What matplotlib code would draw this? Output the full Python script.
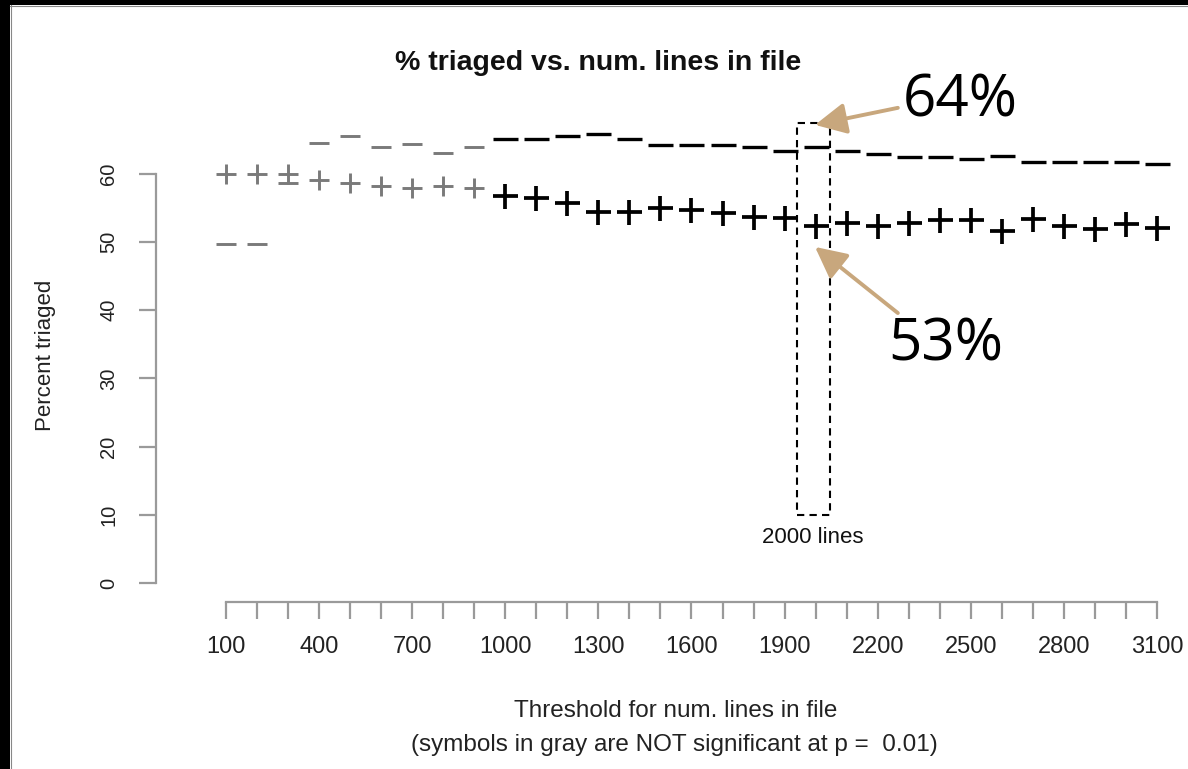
import matplotlib
matplotlib.use('Agg')
import matplotlib.pyplot as plt
from matplotlib.patches import Rectangle
import numpy as np

# thresholds for num. lines in file
thresholds = [100, 200, 300, 400, 500, 600, 700, 800, 900, 1000,
              1100, 1200, 1300, 1400, 1500, 1600, 1700, 1800, 1900, 2000,
              2100, 2200, 2300, 2400, 2500, 2600, 2700, 2800, 2900, 3000, 3100]
# "+" series
plus_pct = [60.0, 60.0, 60.0, 59.1, 58.7, 58.2, 57.9, 58.2, 57.9, 56.8,
            56.5, 55.7, 54.4, 54.4, 55.0, 54.7, 54.3, 53.7, 53.5, 52.4,
            52.8, 52.4, 52.8, 53.2, 53.2, 51.6, 53.4, 52.3, 51.9, 52.6, 52.1]
# "-" series
minus_pct = [49.7, 49.7, 58.7, 64.6, 65.5, 63.9, 64.4, 63.1, 63.9, 65.1,
             65.1, 65.5, 65.9, 65.1, 64.3, 64.3, 64.3, 63.9, 63.4, 63.9,
             63.4, 63.0, 62.5, 62.5, 62.2, 62.7, 61.8, 61.8, 61.8, 61.8, 61.4]
# 1 = significant at p = 0.01 (black), 0 = not (gray)
significant = [0, 0, 0, 0, 0, 0, 0, 0, 0, 1,
               1, 1, 1, 1, 1, 1, 1, 1, 1, 1,
               1, 1, 1, 1, 1, 1, 1, 1, 1, 1, 1]

yticks = [0, 10, 20, 30, 40, 50, 60]
xtick_labels = [100, 400, 700, 1000, 1300, 1600, 1900, 2200, 2500, 2800, 3100]

W, H = 1188, 769
fig = plt.figure(figsize=(W / 100, H / 100), dpi=100)
plt.rcParams['font.family'] = ['Liberation Sans', 'DejaVu Sans']

# frame of the slide: black strip top and left
fig.patches.append(Rectangle((0, 1 - 5 / H), 1, 5 / H, transform=fig.transFigure,
                             facecolor='black', edgecolor='none'))
fig.patches.append(Rectangle((0, 0), 10 / W, 1, transform=fig.transFigure,
                             facecolor='black', edgecolor='none'))
fig.add_artist(plt.Line2D([10 / W, 1], [1 - 5.5 / H] * 2, color='#888888', lw=0.8))
fig.add_artist(plt.Line2D([10.5 / W] * 2, [0, 1 - 5 / H], color='#888888', lw=0.8))

L, R, B, T = 156, 1170, 602, 100
ax = fig.add_axes([L / W, 1 - B / H, (R - L) / W, (B - T) / H])
ax.set_xlim(-125.6, 3142)
ax.set_ylim(-2.79, 70.85)

gray = '#7a7a7a'
x = np.array(thresholds)
sig = np.array(significant, dtype=bool)
p = np.array(plus_pct)
m = np.array(minus_pct)

ax.plot(x[~sig], p[~sig], ls='none', marker='+', ms=14.5, mew=2.1, color=gray)
ax.plot(x[sig], p[sig], ls='none', marker='+', ms=18, mew=2.7, color='black')
ax.plot(x[~sig], m[~sig], ls='none', marker='_', ms=14.5, mew=2.1, color=gray)
ax.plot(x[sig], m[sig], ls='none', marker='_', ms=18, mew=2.4, color='black')

# R-style axes
for s in ['top', 'right']:
    ax.spines[s].set_visible(False)
ax.spines['left'].set_bounds(0, 60)
ax.spines['bottom'].set_bounds(100, 3100)
for s in ['left', 'bottom']:
    ax.spines[s].set_color('#9a9a9a')
    ax.spines[s].set_linewidth(1.6)
ax.set_xticks(thresholds)
ax.set_xticklabels([str(t) if t in xtick_labels else '' for t in thresholds])
ax.set_yticks(yticks)
ax.set_yticklabels([str(v) for v in yticks], rotation=90, va='center')
ax.tick_params(axis='x', length=12.2, width=1.6, color='#9a9a9a', pad=12,
               labelsize=17, labelcolor='#222222')
ax.tick_params(axis='y', length=12.2, width=1.6, color='#9a9a9a', pad=15,
               labelsize=14.5, labelcolor='#222222')

# highlighted 2000-lines box
ax.add_patch(Rectangle((1940, 10), 105, 57.5, fill=False, ls=(0, (3.5, 2.5)),
                       lw=1.5, edgecolor='black', clip_on=False))
ax.text(1990, 6.7, '2000 lines', ha='center', va='center', fontsize=16, color='#111111')

# callouts
tan = '#c8a77d'
arrow = dict(arrowstyle='-|>,head_length=1.0,head_width=0.5', color=tan, lw=2.8,
             mutation_scale=19, shrinkA=0, shrinkB=0)
ax.annotate('', xy=(1998, 67.2), xytext=(2265, 69.7), arrowprops=arrow,
            annotation_clip=False)
ax.annotate('', xy=(1998, 49.3), xytext=(2265, 39.6), arrowprops=arrow,
            annotation_clip=False)
ax.text(2282, 70.6, '64%', fontsize=42, family='Open Sans', ha='left', va='center')
ax.text(2233, 34.9, '53%', fontsize=42, family='Open Sans', ha='left', va='center')

fig.text(598 / W, 1 - 63 / H, '% triaged vs. num. lines in file', ha='center',
         va='center', fontsize=20.5, fontweight='bold', color='#111111')
fig.text(46 / W, 1 - 355 / H, 'Percent triaged', rotation=90, ha='center',
         va='center', fontsize=16, color='#222222')
fig.text(676 / W, 1 - 711 / H, 'Threshold for num. lines in file', ha='center',
         va='center', fontsize=17.5, color='#222222')
fig.text(674 / W, 1 - 745 / H, '(symbols in gray are NOT significant at p =  0.01)',
         ha='center', va='center', fontsize=17.5, color='#222222')

fig.savefig('out.png', dpi=100, facecolor='white')
